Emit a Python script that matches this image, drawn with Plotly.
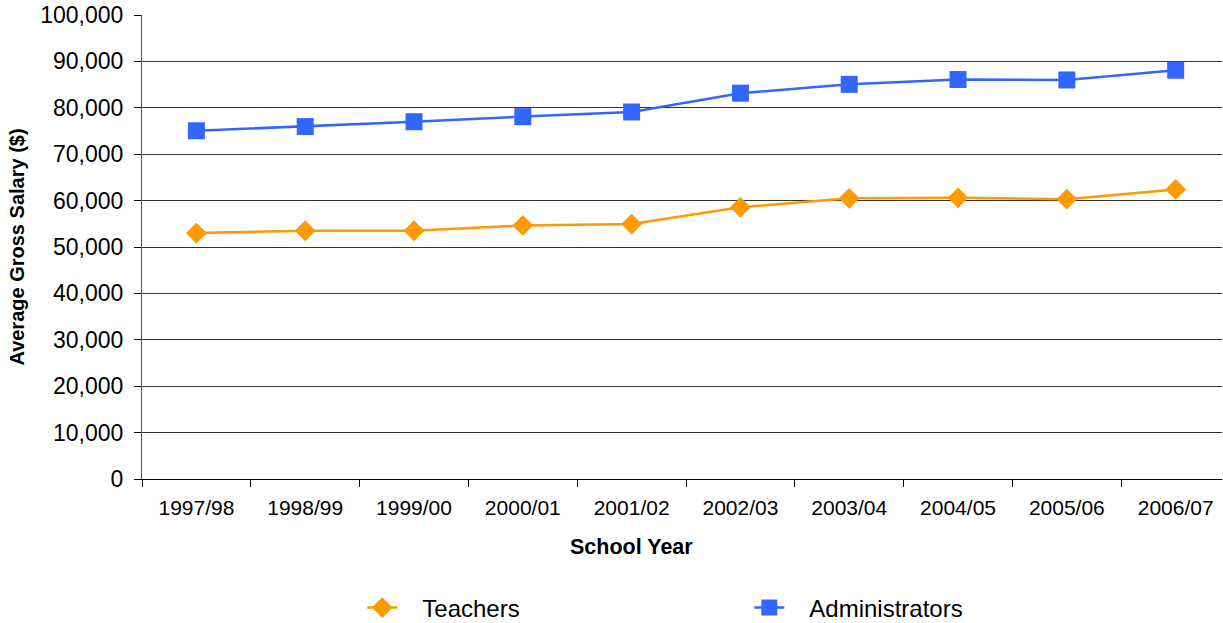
import plotly.graph_objects as go

years = ["1997/98", "1998/99", "1999/00", "2000/01", "2001/02",
         "2002/03", "2003/04", "2004/05", "2005/06", "2006/07"]
teachers = [53000, 53500, 53500, 54650, 54950, 58550, 60500, 60600, 60300, 62400]
administrators = [75050, 75950, 77000, 78100, 79100, 83150, 85050, 86100, 86000, 88100]
y_ticks = list(range(0, 100001, 10000))

FONT = "Liberation Sans, Arial, sans-serif"
PAD = "\u00a0\u00a0\u00a0"

fig = go.Figure()
fig.add_trace(go.Scatter(
    x=years, y=teachers, name=PAD + "Teachers", mode="lines+markers",
    line=dict(color="#FF9900", width=2.5),
    marker=dict(symbol="diamond", size=16, color="#FF9900"),
))
fig.add_trace(go.Scatter(
    x=years, y=administrators, name=PAD + "Administrators", mode="lines+markers",
    line=dict(color="#3366FF", width=2.5),
    marker=dict(symbol="square", size=17, color="#3366FF"),
))

fig.add_annotation(text="<b>School Year</b>", xref="paper", yref="paper",
                   x=0.4528, y=-0.1466, xanchor="center", yanchor="middle",
                   showarrow=False, font=dict(size=21.5, family=FONT, color="black"))

fig.update_layout(
    width=1223, height=623,
    margin=dict(l=142, r=1, t=15, b=144, autoexpand=False),
    paper_bgcolor="white", plot_bgcolor="white",
    font=dict(family=FONT, size=20, color="black"),
    showlegend=True,
    legend=dict(orientation="h", x=0.204, xanchor="left", y=-0.278, yanchor="middle",
                font=dict(size=24), entrywidth=342, entrywidthmode="pixels",
                itemclick=False),
    xaxis=dict(
        type="category", range=[-0.5, 9.426], automargin=False,
        showgrid=False, showline=True, linecolor="black", linewidth=1,
        ticks="outside", tickson="boundaries", ticklen=7, tickcolor="black",
        tickfont=dict(size=21), ticklabelstandoff=10,
    ),
    yaxis=dict(
        range=[0, 100000], tickvals=y_ticks, tickformat=",d", automargin=False,
        showgrid=True, gridcolor="#333333", gridwidth=1,
        showline=True, linecolor="#555555", linewidth=1,
        ticks="outside", ticklen=7, tickcolor="black",
        tickfont=dict(size=23), ticklabelstandoff=6, zeroline=False,
        title=dict(text="<b>Average Gross Salary ($)</b>", font=dict(size=20), standoff=10),
    ),
)

fig.write_html("out.html", config={"displayModeBar": False},
               post_script="document.body.style.margin='0';")
